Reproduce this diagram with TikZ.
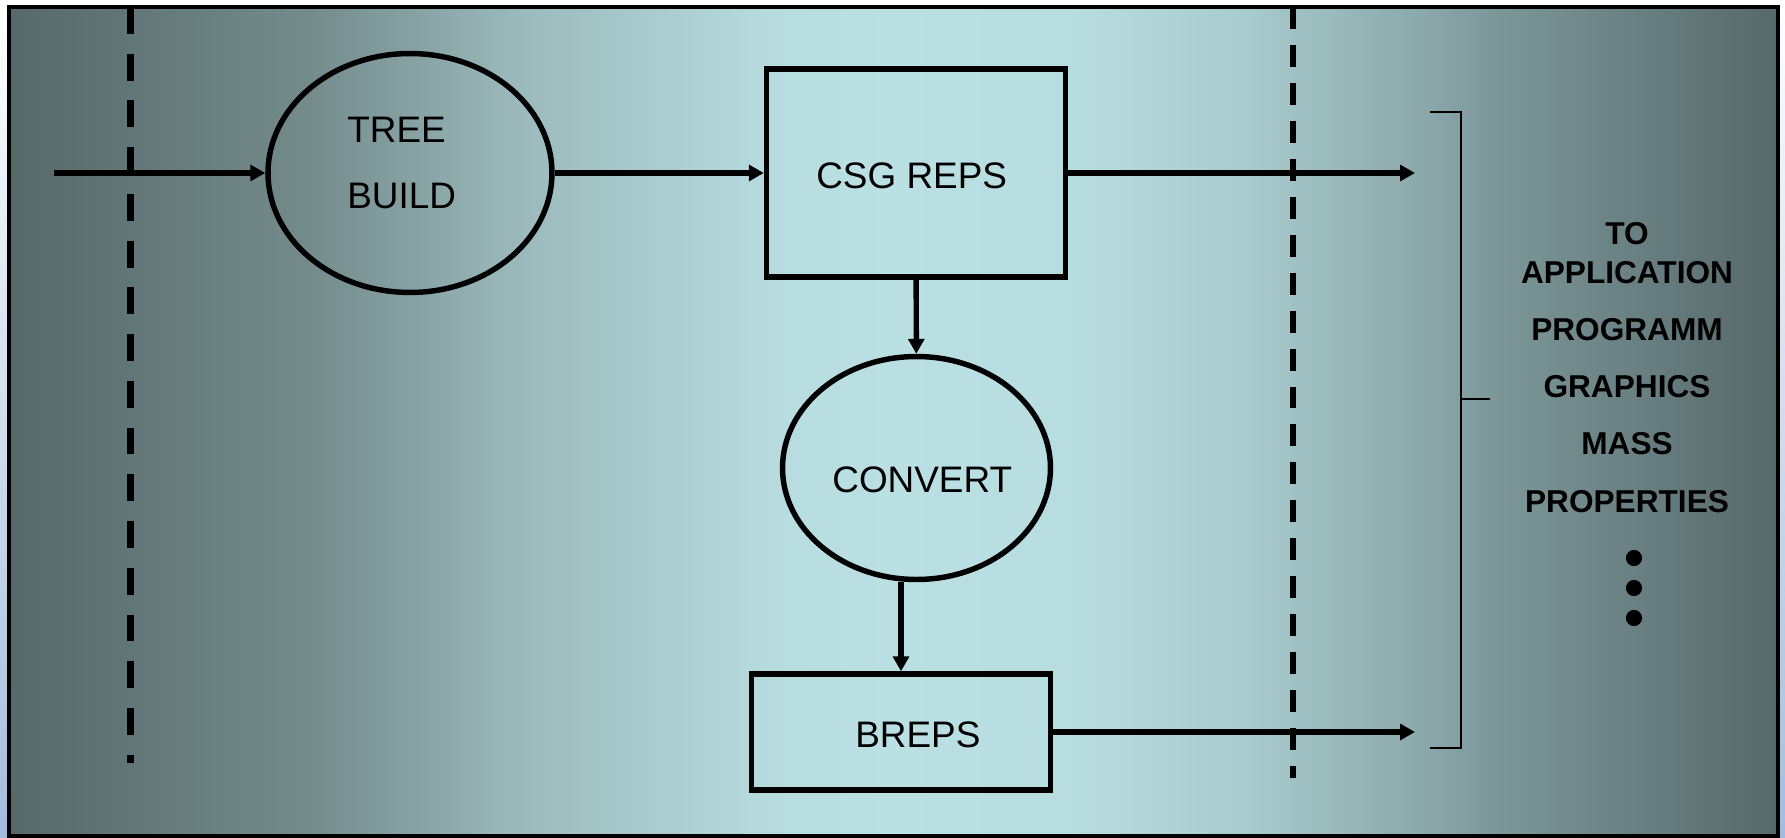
\documentclass[tikz,border=0pt]{standalone}
\usepackage{fontspec}
\setmainfont{Liberation Sans}
\usetikzlibrary{shapes.geometric,arrows.meta}

\definecolor{slideblue}{HTML}{A3BCDC}
\definecolor{edgegray}{HTML}{56686A}
\definecolor{shadeA}{HTML}{748B8C}
\definecolor{shadeB}{HTML}{9CBABC}
\definecolor{shadeC}{HTML}{B8DDE0}
\definecolor{shadeD}{HTML}{BBE0E3}
\definecolor{shadeE}{HTML}{A8CBCD}
\definecolor{shadeF}{HTML}{88A4A6}
\definecolor{shadeG}{HTML}{7D9799}

\pgfdeclarehorizontalshading{slideshade}{100bp}{color(0bp)=(edgegray); color(25bp)=(edgegray);
    color(33.5bp)=(shadeA); color(39.5bp)=(shadeB); color(47bp)=(shadeC); color(50bp)=(shadeD);
    color(55bp)=(shadeC); color(60bp)=(shadeE); color(65.5bp)=(shadeF); color(67bp)=(shadeG);
    color(75bp)=(edgegray); color(100bp)=(edgegray)}

\begin{document}
\begin{tikzpicture}[x=0.02cm,y=-0.02cm,>={Triangle[length=8.5pt,width=9pt]},
    flow/.style={line width=3.1pt},
    bubble/.style={ellipse,draw,line width=3.1pt},
    box/.style={rectangle,draw,line width=3.1pt},
    txt/.style={inner sep=0pt,font=\fontsize{21}{37.4}\selectfont},
    side/.style={inner sep=0pt,anchor=base,font=\fontsize{18}{21}\selectfont\bfseries}]

    % BACKGROUND
    \useasboundingbox (0,0) rectangle (1785,838);
    \fill[top color=white,bottom color=slideblue] (0,0) rectangle (1785,838);
    \shade[shading=slideshade,draw,line width=2.3pt] (9,7) rectangle (1778,836);

    % DASHED LIMITS
    \draw[line width=4pt,dash pattern=on 15.3pt off 11.3pt] (130.5,7) -- (130.5,763);
    \draw[line width=3pt,dash pattern=on 12.5pt off 9.1pt] (1293,7) -- (1293,778);

    % SHAPES
    \node[bubble,minimum width=5.68cm,minimum height=4.78cm] (tree) at (410,173) {};
    \node[box,minimum width=5.98cm,minimum height=4.16cm] (csg) at (916,173) {};
    \node[bubble,minimum width=5.36cm,minimum height=4.46cm] (convert) at (916.5,468) {};
    \node[box,minimum width=5.98cm,minimum height=2.32cm] (breps) at (901,732) {};

    % LABELS
    \node[txt,anchor=north west,align=left] (treetxt) at (347,117) {TREE\\BUILD};
    \node[txt,anchor=base west] (csgtxt) at (816,188) {CSG REPS};
    \node[txt,anchor=base west] (converttxt) at (832,492) {CONVERT};
    \node[txt,anchor=base west] (brepstxt) at (855,747) {BREPS};

    % FLOW
    \coordinate (in) at (54,173);
    \coordinate (outcsg) at (1415,173);
    \coordinate (outbreps) at (1415,732);
    \draw[flow,->] (in) -- (tree);
    \draw[flow,->] (tree) -- (csg);
    \draw[flow,->] (csg) -- (outcsg);
    \draw[flow,->] (csg) -- (convert);
    \draw[flow,->] (convert.south -| breps.north) -- (breps.north);
    \draw[flow,->] (breps) -- (outbreps);

    % BRACKET
    \draw[line width=1.2pt] (1430,112) -- (1461,112) -- (1461,748) -- (1430,748);
    \draw[line width=1.2pt] (1461,399) -- (1490,399);

    % APPLICATIONS
    \node[side] (to) at (1627,244) {TO};
    \node[side] (application) at (1627,283) {APPLICATION};
    \node[side] (programm) at (1627,340) {PROGRAMM};
    \node[side] (graphics) at (1627,397) {GRAPHICS};
    \node[side] (mass) at (1627,454) {MASS};
    \node[side] (properties) at (1627,512) {PROPERTIES};
    \fill (1634,558) circle (4.6pt);
    \fill (1634,588) circle (4.6pt);
    \fill (1634,618) circle (4.6pt);

\end{tikzpicture}
\end{document}
